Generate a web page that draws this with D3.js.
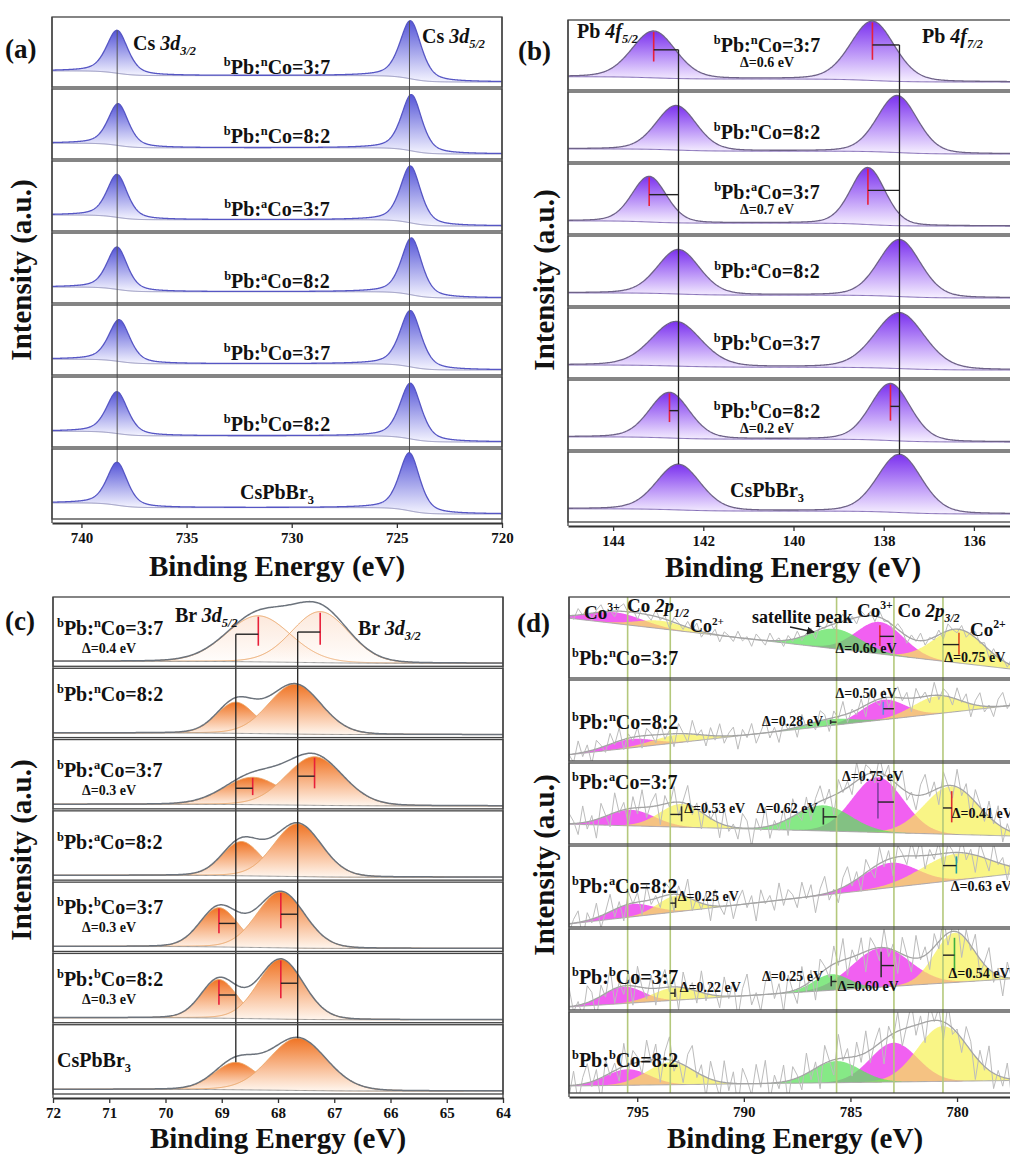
<!DOCTYPE html>
<html>
<head>
<meta charset="utf-8">
<script src="https://cdn.jsdelivr.net/npm/d3@7"></script>
<style>
  body { margin: 0; background: #fff; }
  svg text { font-family: "Liberation Serif", "Times New Roman", "DejaVu Serif", serif; font-weight: bold; fill: #111; }
</style>
</head>
<body>
<svg id="fig" width="1010" height="1159"></svg>
<script>
// label markup: ^{} superscript, _{} subscript, *{} italic, ~{} italic subscript
const sampleNames = ["^{b}Pb:^{n}Co=3:7", "^{b}Pb:^{n}Co=8:2", "^{b}Pb:^{a}Co=3:7", "^{b}Pb:^{a}Co=8:2",
                     "^{b}Pb:^{b}Co=3:7", "^{b}Pb:^{b}Co=8:2", "CsPbBr_{3}"];

// (a) Cs 3d  (binding energy eV, intensity a.u., FWHM eV)
const csTicks = [740, 735, 730, 725, 720];
const cs32Pos = [738.3, 738.25, 738.3, 738.3, 738.2, 738.3, 738.3];
const cs52Pos = [724.35, 724.3, 724.35, 724.3, 724.35, 724.35, 724.4];
const cs32Int = [74, 72, 74, 73, 72, 72, 74];
const cs52Int = [100, 97, 98, 98, 97, 96, 100];
const csFwhm = [1.2, 1.15, 1.15, 1.15, 1.2, 1.2, 1.15];

// (b) Pb 4f
const pbTicks = [144, 142, 140, 138, 136];
const pb52Pos = [143.1, 142.6, 143.2, 142.55, 142.6, 142.75, 142.55];
const pb72Pos = [138.25, 137.7, 138.35, 137.65, 137.65, 137.85, 137.65];
const pb52Int = [82, 78, 80, 78, 78, 80, 80];
const pb72Int = [104, 100, 100, 100, 98, 100, 102];
const pbFwhm = [1.15, 1.05, 0.9, 1.1, 1.3, 1.05, 1.15];
const pbDelta = ["Δ=0.6 eV", null, "Δ=0.7 eV", null, null, "Δ=0.2 eV", null];

// (c) Br 3d
const brTicks = [72, 71, 70, 69, 68, 67, 66, 65, 64];
const br52Pos = [68.35, 68.75, 68.45, 68.65, 69.05, 69.05, 68.75];
const br32Pos = [67.25, 67.7, 67.35, 67.65, 67.95, 67.95, 67.65];
const br52Int = [74, 50, 44, 55, 63, 62, 44];
const br32Int = [82, 80, 78, 85, 90, 96, 84];
const br52Fwhm = [1.35, 0.8, 1.2, 0.8, 0.8, 0.75, 0.9];
const br32Fwhm = [1.2, 1.1, 1.2, 1.0, 1.0, 0.95, 1.2];
const brDelta = ["Δ=0.4 eV", null, "Δ=0.3 eV", null, "Δ=0.3 eV", "Δ=0.3 eV", null];

// (d) Co 2p : Co3+ 2p1/2, Co2+ 2p1/2, satellite, Co3+ 2p3/2, Co2+ 2p3/2
const coTicks = [795, 790, 785, 780];
const coMag12Pos = [796.0, 795.3, 795.3, 795.25, 795.65, 795.45];
const coYel12Pos = [793.9, 793.1, 792.92, 793.2, 793.23, 793.45];
const coSatPos   = [785.7, 785.93, 786.27, 785.6, 785.9, 785.65];
const coMag32Pos = [783.62, 783.46, 783.71, 783.15, 783.56, 782.96];
const coYel32Pos = [779.91, 780.95, 780.25, 780.03, 780.12, 780.66];
const coMag12Int = [14, 11, 20, 16, 21, 20];
const coYel12Int = [10, 10, 29, 20, 16, 28];
const coSatInt   = [25, 8, 32, 0, 20, 27];
const coMag32Int = [40, 25, 69, 31, 49, 49];
const coYel32Int = [42, 22, 60, 33, 62, 69];
const coMag12W = [3.0, 2.5, 2.6, 2.4, 2.2, 2.4];
const coYel12W = [2.6, 2.8, 2.4, 2.0, 2.4, 2.6];
const coSatW   = [2.8, 2.5, 3.0, 2.5, 2.0, 2.6];
const coMag32W = [2.6, 2.4, 2.8, 3.0, 3.2, 2.6];
const coYel32W = [2.8, 2.6, 3.0, 3.8, 2.2, 2.8];
const coBgLeft  = [71, 4, 21, 0, 0, 5];     // background at 798.2 eV
const coBgRight = [6, 67, 6, 64, 36, 12];   // background at 777 eV
const coNoiseAmp = [10, 18, 26, 24, 30, 32];
const rawNoise = [0.2,-0.5,0.8,-0.1,0.6,-0.9,0.3,0.9,-0.4,0.1,-0.7,0.5,0.95,-0.2,0.4,-0.8,0.7,0.0,-0.6,0.85,
  -0.3,0.45,-0.95,0.6,0.15,-0.45,0.75,-0.15,0.9,-0.7,0.3,-0.25,0.65,-0.85,0.5,0.1,-0.55,0.8,-0.35,0.25,
  -0.9,0.7,0.05,-0.6,0.95,-0.1,0.35,-0.75,0.55,-0.3,0.85,-0.5,0.2,0.6,-0.95,0.4,-0.2,0.75,-0.65,0.1,
  0.9,-0.4,0.3,-0.8,0.65,-0.05,0.5,-0.7,0.8,-0.25,0.15,-0.55,0.7,0.35,-0.9,0.45,-0.15,0.95,-0.6,0.2,
  -0.35,0.6,-0.8,0.85,0.0,-0.45,0.55,-0.7,0.25,0.75,-0.2,0.4,-0.95,0.65,-0.1,0.3,-0.5,0.9,-0.3,0.5];
// marked components per row [component index, marker colour]
const coMarks = [
  [[3, "#e03040"], [4, "#e05020"]],
  [[2, "#333"], [3, "#6090e0"]],
  [[1, "#333"], [2, "#333"], [3, "#8040a0"], [4, "#e03030"]],
  [[1, "#333"], [4, "#20a0a0"]],
  [[1, "#333"], [2, "#333"], [3, "#333"], [4, "#40b040"]],
  []
];
// shift labels: text, anchor energy, offset from row top
const coDeltaLabels = [
  [["Δ=0.66 eV", 785.7, 56], ["Δ=0.75 eV", 780.6, 65]],
  [["Δ=0.50 eV", 785.7, 18], ["Δ=0.28 eV", 789.15, 46]],
  [["Δ=0.53 eV", 792.8, 50], ["Δ=0.62 eV", 789.4, 50], ["Δ=0.75 eV", 785.4, 18], ["Δ=0.41 eV", 780.25, 55]],
  [["Δ=0.25 eV", 793.1, 55], ["Δ=0.63 eV", 780.3, 45]],
  [["Δ=0.22 eV", 793.0, 63], ["Δ=0.25 eV", 789.15, 52], ["Δ=0.60 eV", 785.6, 62], ["Δ=0.54 eV", 780.4, 49]],
  []
];

const FONT = '"Liberation Serif", "Times New Roman", "DejaVu Serif", serif';
const svg = d3.select("#fig").attr("font-family", FONT).attr("font-weight", "bold");
const defs = svg.append("defs");

function addGrad(id, c0, c1) {
  const g = defs.append("linearGradient").attr("id", id)
    .attr("x1", 0).attr("y1", 0).attr("x2", 0).attr("y2", 1);
  g.append("stop").attr("offset", "0%").attr("stop-color", c0);
  g.append("stop").attr("offset", "100%").attr("stop-color", c1);
}
addGrad("gBlue", "#4646d4", "#f4f4ff");
addGrad("gPurple", "#7426ee", "#f6f0ff");
addGrad("gOrange", "#f07424", "#fff6ee");

// text with sup/sub/italic parts
function rich(g, str, x, y, size, anchor) {
  const t = g.append("text").attr("x", x).attr("y", y).attr("font-size", size)
    .attr("text-anchor", anchor || "start").style("font-family", FONT).style("font-weight", "bold");
  const re = /(\^|_|\*|~)\{([^}]*)\}/g;
  const parts = [];
  let last = 0, m;
  while ((m = re.exec(str)) !== null) {
    if (m.index > last) parts.push({ t: str.slice(last, m.index), k: "" });
    parts.push({ t: m[2], k: m[1] });
    last = re.lastIndex;
  }
  if (last < str.length) parts.push({ t: str.slice(last), k: "" });
  let shift = 0;
  parts.forEach(p => {
    const ts = t.append("tspan").text(p.t);
    let target = 0;
    if (p.k === "^") target = -0.4 * size;
    if (p.k === "_" || p.k === "~") target = 0.25 * size;
    if (target !== shift) { ts.attr("dy", target - shift); shift = target; }
    if (p.k === "^" || p.k === "_" || p.k === "~") ts.attr("font-size", size * 0.62);
    if (p.k === "*" || p.k === "~") ts.attr("font-style", "italic");
  });
  return t;
}

function pv(E, c, h, w, eta) {
  const u = (E - c) / w;
  return h * (eta / (1 + 4 * u * u) + (1 - eta) * Math.exp(-4 * Math.LN2 * u * u));
}

// panel frame: x scale, stacked rows, clip paths
function makePanel(p) {
  const x = d3.scaleLinear().domain(p.domain).range([p.left, p.right]);
  const g = svg.append("g");
  const rowH = (p.axisY - 4 - p.top - (p.n - 1) * 2) / p.n;
  const rows = d3.range(p.n).map(i => {
    const top = p.top + i * (rowH + 2);
    const id = p.id + "clip" + i;
    defs.append("clipPath").attr("id", id).append("rect")
      .attr("x", p.left).attr("y", top).attr("width", p.right - p.left).attr("height", rowH);
    return { top, bottom: top + rowH, clip: "url(#" + id + ")" };
  });
  const lo = Math.min(...p.domain), hi = Math.max(...p.domain);
  return Object.assign({ x, g, rows, rowH, lo, hi }, p);
}

function finishPanel(P) {
  const g = P.g.append("g");
  P.rows.forEach(r => {
    g.append("rect").attr("x", P.left).attr("y", r.top).attr("width", P.right - P.left)
      .attr("height", r.bottom - r.top).attr("fill", "none").attr("stroke", "#444").attr("stroke-width", 1.3);
  });
  g.append("line").attr("x1", P.left).attr("x2", P.left).attr("y1", P.top).attr("y2", P.axisY)
    .attr("stroke", "#444").attr("stroke-width", 1.3);
  g.append("line").attr("x1", P.right).attr("x2", P.right).attr("y1", P.top).attr("y2", P.axisY)
    .attr("stroke", "#444").attr("stroke-width", 1.3);
  const ax = g.append("g").attr("transform", `translate(0,${P.axisY})`)
    .call(d3.axisBottom(P.x).tickValues(P.ticks).tickSize(5).tickSizeOuter(0).tickPadding(4));
  ax.attr("font-family", FONT);
  ax.select(".domain").attr("stroke", "#333").attr("stroke-width", 1.8);
  ax.selectAll(".tick line").attr("stroke", "#333").attr("stroke-width", 1.3);
  ax.selectAll("text").attr("font-size", 15).style("font-family", FONT).style("font-weight", "bold").attr("fill", "#222");
  rich(g, "Binding Energy (eV)", P.titleX, P.titleY, 29, "middle");
  rich(g, "Intensity (a.u.)", 0, 0, 29, "middle")
    .attr("transform", `translate(${P.yTitleX},${P.yTitleY}) rotate(-90)`);
  rich(g, P.letter, P.letterX, P.letterY, 27);
}

// two-peak stacks for (a), (b), (c)
function drawDoublets(P, opt) {
  P.rows.forEach((r, i) => {
    const y = d3.scaleLinear().domain([0, 100]).range([r.bottom - opt.padBot, r.top + opt.padTop]);
    r.y = y;
    const pk = opt.peaks(i);
    const bg = E => d3.sum(pk, p => opt.step * p.h / 100 / (1 + Math.exp(-(E - p.c) / (p.w * 0.35))));
    r.bg = bg;
    const rg = P.g.append("g").attr("clip-path", r.clip);
    pk.forEach(p => {
      const pts = d3.range(Math.max(P.lo, p.c - 4.5 * p.w), Math.min(P.hi, p.c + 4.5 * p.w), 0.01)
        .map(E => ({ E, b: bg(E), v: pv(E, p.c, p.h, p.w, opt.eta) }));
      rg.append("path").datum(pts)
        .attr("d", d3.area().x(d => P.x(d.E)).y0(d => y(d.b)).y1(d => y(d.b + d.v)))
        .attr("fill", `url(#${opt.grad})`).attr("fill-opacity", opt.fillOpacity(i));
      if (opt.peakStroke) {
        rg.append("path").datum(pts)
          .attr("d", d3.line().x(d => P.x(d.E)).y(d => y(d.b + d.v)))
          .attr("fill", "none").attr("stroke", opt.peakStroke).attr("stroke-width", 1);
      }
    });
    const grid = d3.range(P.lo, P.hi + 0.01, 0.02);
    rg.append("path").datum(grid)
      .attr("d", d3.line().x(E => P.x(E)).y(E => y(bg(E))))
      .attr("fill", "none").attr("stroke", opt.bgStroke).attr("stroke-width", 1);
    rg.append("path").datum(grid)
      .attr("d", d3.line().x(E => P.x(E)).y(E => y(bg(E) + d3.sum(pk, p => pv(E, p.c, p.h, p.w, opt.eta)))))
      .attr("fill", "none").attr("stroke", opt.envStroke).attr("stroke-width", opt.envWidth);
  });
}

function shiftMark(P, r, pos, ref, h, level) {
  const b = r.bg(pos);
  P.g.append("line").attr("x1", P.x(pos)).attr("x2", P.x(pos))
    .attr("y1", r.y(b + h * 0.98)).attr("y2", r.y(b + h * 0.35))
    .attr("stroke", "#e8203a").attr("stroke-width", 1.6);
  P.g.append("line").attr("x1", P.x(pos)).attr("x2", P.x(ref))
    .attr("y1", r.y(b + h * level)).attr("y2", r.y(b + h * level))
    .attr("stroke", "#222").attr("stroke-width", 1.4);
}

function refLine(P, xE, y1, y2, color, width) {
  P.g.append("line").attr("x1", P.x(xE)).attr("x2", P.x(xE)).attr("y1", y1).attr("y2", y2)
    .attr("stroke", color).attr("stroke-width", width);
}

// ---------------- (a) ----------------
const A = makePanel({ id: "a", domain: [741.4, 720], left: 52, right: 502, top: 17, axisY: 523, n: 7,
  ticks: csTicks, titleX: 277, titleY: 576, yTitleX: 31, yTitleY: 270, letter: "(a)", letterX: 5, letterY: 58 });
drawDoublets(A, {
  peaks: i => [{ c: cs32Pos[i], h: cs32Int[i], w: csFwhm[i] }, { c: cs52Pos[i], h: cs52Int[i], w: csFwhm[i] }],
  eta: 0.5, step: 11, padBot: 5, padTop: 7, grad: "gBlue", fillOpacity: () => 0.92,
  bgStroke: "#8c8cb8", envStroke: "#5656c4", envWidth: 1.3
});
[[cs32Pos, cs32Int], [cs52Pos, cs52Int]].forEach(([pos, inten]) => {
  const r0 = A.rows[0], r6 = A.rows[6];
  refLine(A, pos[6], r0.y(r0.bg(pos[0]) + inten[0]), r6.y(r6.bg(pos[6]) + inten[6]), "#555", 1);
});
A.rows.forEach((r, i) => rich(A.g, sampleNames[i], 277, r.top + [57, 54, 55, 55, 55, 54, 50][i], 20, "middle"));
rich(A.g, "Cs *{3d}~{3/2}", 133, 50, 20);
rich(A.g, "Cs *{3d}~{5/2}", 422, 43, 20);
finishPanel(A);

// ---------------- (b) ----------------
const B = makePanel({ id: "b", domain: [145, 135], left: 568, right: 1019, top: 20, axisY: 526, n: 7,
  ticks: pbTicks, titleX: 793, titleY: 577, yTitleX: 554, yTitleY: 280, letter: "(b)", letterX: 518, letterY: 60 });
drawDoublets(B, {
  peaks: i => [{ c: pb52Pos[i], h: pb52Int[i], w: pbFwhm[i] }, { c: pb72Pos[i], h: pb72Int[i], w: pbFwhm[i] }],
  eta: 0.2, step: 5, padBot: 8, padTop: 5, grad: "gPurple", fillOpacity: () => 0.95,
  bgStroke: "#7a62b0", envStroke: "#6e6288", envWidth: 1.3
});
[[pb52Pos, pb52Int], [pb72Pos, pb72Int]].forEach(([pos, inten]) => {
  const r0 = B.rows[0], r6 = B.rows[6];
  refLine(B, pos[6], r0.y(r0.bg(pos[0]) + inten[0] * 0.6), r6.y(r6.bg(pos[6]) + inten[6]), "#222", 1.3);
  B.rows.forEach((r, i) => { if (pbDelta[i]) shiftMark(B, r, pos[i], pos[6], inten[i], 0.6); });
});
B.rows.forEach((r, i) => {
  const dy = [32, 47, 35, 42, 42, 38, 45][i];
  rich(B.g, sampleNames[i], 767, r.top + dy, 20, "middle");
  if (pbDelta[i]) rich(B.g, pbDelta[i], 767, r.top + dy + 15, 14, "middle");
});
rich(B.g, "Pb *{4f}~{5/2}", 577, 38, 20);
rich(B.g, "Pb *{4f}~{7/2}", 922, 43, 20);
finishPanel(B);

// ---------------- (c) ----------------
const C = makePanel({ id: "c", domain: [72, 64], left: 53, right: 503, top: 597, axisY: 1098, n: 7,
  ticks: brTicks, titleX: 278, titleY: 1148, yTitleX: 31, yTitleY: 850, letter: "(c)", letterX: 5, letterY: 630 });
drawDoublets(C, {
  peaks: i => [{ c: br52Pos[i], h: br52Int[i], w: br52Fwhm[i] }, { c: br32Pos[i], h: br32Int[i], w: br32Fwhm[i] }],
  eta: 0.1, step: 2, padBot: 3, padTop: 4, grad: "gOrange", fillOpacity: i => (i === 0 ? 0.16 : 1),
  peakStroke: "#e9a466", bgStroke: "#9a9a9a", envStroke: "#6c737c", envWidth: 1.5
});
[[br52Pos, br52Int], [br32Pos, br32Int]].forEach(([pos, inten]) => {
  const r0 = C.rows[0], r6 = C.rows[6];
  refLine(C, pos[6], r0.y(r0.bg(pos[0]) + inten[0] * 0.6), r6.y(r6.bg(pos[6]) + inten[6]), "#222", 1.3);
  C.rows.forEach((r, i) => { if (brDelta[i]) shiftMark(C, r, pos[i], pos[6], inten[i], 0.6); });
});
C.rows.forEach((r, i) => {
  const dy = [38, 33, 37, 38, 32, 33, 42][i];
  rich(C.g, sampleNames[i], 57, r.top + dy, 20);
  if (brDelta[i]) rich(C.g, brDelta[i], 82, r.top + dy + 18, 14);
});
rich(C.g, "Br *{3d}~{5/2}", 175, 622, 20);
rich(C.g, "Br *{3d}~{3/2}", 358, 635, 20);
finishPanel(C);

// ---------------- (d) ----------------
const D = makePanel({ id: "d", domain: [798.2, 777], left: 569, right: 1021, top: 597, axisY: 1097, n: 6,
  ticks: coTicks, titleX: 795, titleY: 1148, yTitleX: 554, yTitleY: 865, letter: "(d)", letterX: 517, letterY: 632 });
const coPos = [coMag12Pos, coYel12Pos, coSatPos, coMag32Pos, coYel32Pos];
const coInt = [coMag12Int, coYel12Int, coSatInt, coMag32Int, coYel32Int];
const coW = [coMag12W, coYel12W, coSatW, coMag32W, coYel32W];
const coColor = ["#f052f0", "#f6f04c", "#5ee25e", "#f052f0", "#f6f04c"];
const coOpacity = [0.92, 0.68, 0.75, 0.92, 0.68];
const coOrder = [0, 3, 1, 4, 2];
const coRef = coPos.map(a => a[5]);

D.rows.forEach((r, i) => {
  const y = d3.scaleLinear().domain([0, 100]).range([r.bottom - 3, r.bottom - 83]);
  const bg = E => coBgLeft[i] + (coBgRight[i] - coBgLeft[i]) * (798.2 - E) / (798.2 - 777);
  const env = E => bg(E) + d3.sum(coPos, (a, k) => pv(E, a[i], coInt[k][i], coW[k][i], 0));
  const rg = D.g.append("g").attr("clip-path", r.clip);
  coOrder.forEach(k => {
    if (!coInt[k][i]) return;
    const c = coPos[k][i], w = coW[k][i];
    const pts = d3.range(Math.max(777, c - 3.5 * w), Math.min(798.2, c + 3.5 * w), 0.02);
    rg.append("path").datum(pts)
      .attr("d", d3.area().x(E => D.x(E)).y0(E => y(bg(E))).y1(E => y(bg(E) + pv(E, c, coInt[k][i], w, 0))))
      .attr("fill", coColor[k]).attr("fill-opacity", coOpacity[k]);
  });
  const grid = d3.range(777, 798.21, 0.05);
  rg.append("path").datum(grid).attr("d", d3.line().x(E => D.x(E)).y(E => y(bg(E))))
    .attr("fill", "none").attr("stroke", "#a8a8a8").attr("stroke-width", 1);
  rg.append("path").datum(rawNoise.map((v, k) => k))
    .attr("d", d3.line().x(k => D.x(798.2 - k * 21.2 / 99))
      .y(k => y(env(798.2 - k * 21.2 / 99) + coNoiseAmp[i] * rawNoise[(k + i * 17) % rawNoise.length])))
    .attr("fill", "none").attr("stroke", "#bcbcbc").attr("stroke-width", 1);
  rg.append("path").datum(grid).attr("d", d3.line().x(E => D.x(E)).y(E => y(env(E))))
    .attr("fill", "none").attr("stroke", "#a4a4a4").attr("stroke-width", 1.3);
  r.y = y; r.bg = bg;
});
coRef.forEach(e => refLine(D, e, D.top, D.axisY - 4, "#b4c87c", 1.6));
D.rows.forEach((r, i) => {
  coMarks[i].forEach(([k, col]) => {
    const c = coPos[k][i], h = coInt[k][i], b = r.bg(c);
    D.g.append("line").attr("x1", D.x(c)).attr("x2", D.x(c))
      .attr("y1", r.y(b + h * 0.9)).attr("y2", r.y(b + h * 0.25))
      .attr("stroke", col).attr("stroke-width", 1.6);
    D.g.append("line").attr("x1", D.x(c)).attr("x2", D.x(coRef[k]))
      .attr("y1", r.y(b + h * 0.55)).attr("y2", r.y(b + h * 0.55))
      .attr("stroke", "#222").attr("stroke-width", 1.4);
  });
  coDeltaLabels[i].forEach(([t, e, dy]) => rich(D.g, t, D.x(e), r.top + dy, 14));
  rich(D.g, sampleNames[i], 572, r.top + [68, 49, 26, 47, 55, 55][i], 20);
});
rich(D.g, "Co^{3+}", 584, 619, 19);
rich(D.g, "Co *{2p}~{1/2}", 627, 612, 19);
rich(D.g, "Co^{2+}", 690, 632, 18);
rich(D.g, "satellite peak", 752, 623, 18);
rich(D.g, "Co^{3+} Co *{2p}~{3/2}", 857, 617, 19);
rich(D.g, "Co^{2+}", 970, 636, 19);
defs.append("marker").attr("id", "arr").attr("viewBox", "0 0 10 10").attr("refX", 9).attr("refY", 5)
  .attr("markerWidth", 6).attr("markerHeight", 6).attr("orient", "auto")
  .append("path").attr("d", "M0,0L10,5L0,10z").attr("fill", "#222");
D.g.append("line").attr("x1", 790).attr("y1", 627).attr("x2", 814).attr("y2", 632)
  .attr("stroke", "#222").attr("stroke-width", 1.3).attr("marker-end", "url(#arr)");
finishPanel(D);
</script>
</body>
</html>
